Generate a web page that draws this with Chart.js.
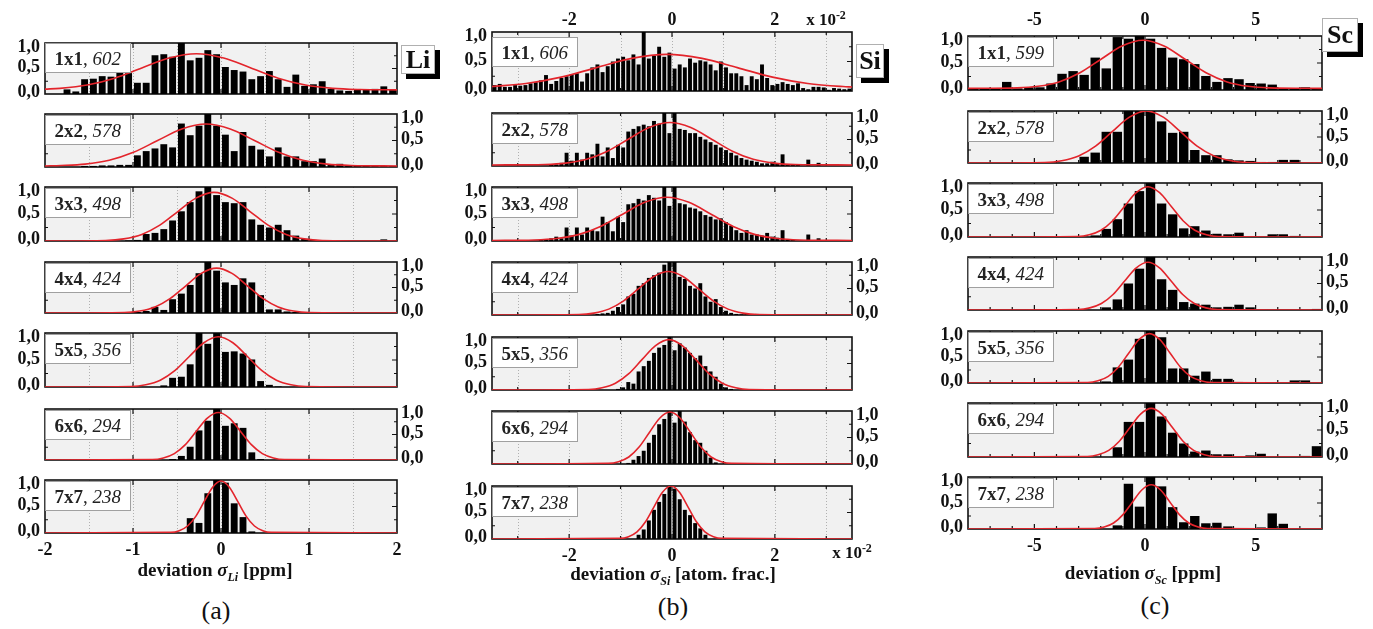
<!DOCTYPE html>
<html>
<head>
<meta charset="utf-8">
<script src="https://cdn.jsdelivr.net/npm/chart.js@4.4.1/dist/chart.umd.min.js"></script>
<style>
  body { margin: 0; background: #fff; width: 1373px; height: 629px; position: relative; overflow: hidden;
         font-family: "Liberation Serif", "Times New Roman", serif; color: #111; }
  canvas { position: absolute; }
  .txt { position: absolute; white-space: nowrap; transform: translate(-50%, -50%); }
  .tag { position: absolute; background: #fff; border: 1px solid #b0b0b0; box-shadow: 5px 5px 0 #000;
         font-weight: bold; font-size: 26px; text-align: center; }
  sub, sup { font-size: 12px; }
</style>
</head>
<body>
<script>
const SERIF = '"Liberation Serif", "Times New Roman", serif';

// panel labels
const sizeLabels = ['1x1', '2x2', '3x3', '4x4', '5x5', '6x6', '7x7'];
const liCounts = [602, 578, 498, 424, 356, 294, 238];
const siCounts = [606, 578, 498, 424, 356, 294, 238];
const scCounts = [599, 578, 498, 424, 356, 294, 238];

// tick labels
const yTickLabels = ['0,0', '0,5', '1,0'];
const yTickValues = [0, 0.5, 1];
const liTickLabels = ['-2', '-1', '0', '1', '2'];
const siTickLabels = ['-2', '0', '2'];
const scTickLabels = ['-5', '0', '5'];

// bin centres
const liCenters = [-1.95,-1.85,-1.75,-1.65,-1.55,-1.45,-1.35,-1.25,-1.15,-1.05,-0.95,-0.85,-0.75,-0.65,-0.55,-0.45,-0.35,-0.25,-0.15,-0.05,
                   0.05,0.15,0.25,0.35,0.45,0.55,0.65,0.75,0.85,0.95,1.05,1.15,1.25,1.35,1.45,1.55,1.65,1.75,1.85,1.95];
const siCenters = [-3.45,-3.35,-3.25,-3.15,-3.05,-2.95,-2.85,-2.75,-2.65,-2.55,-2.45,-2.35,-2.25,-2.15,-2.05,-1.95,-1.85,-1.75,-1.65,-1.55,
                   -1.45,-1.35,-1.25,-1.15,-1.05,-0.95,-0.85,-0.75,-0.65,-0.55,-0.45,-0.35,-0.25,-0.15,-0.05,0.05,0.15,0.25,0.35,0.45,
                   0.55,0.65,0.75,0.85,0.95,1.05,1.15,1.25,1.35,1.45,1.55,1.65,1.75,1.85,1.95,2.05,2.15,2.25,2.35,2.45,
                   2.55,2.65,2.75,2.85,2.95,3.05,3.15,3.25,3.35,3.45];
const scCenters = [-7.75,-7.25,-6.75,-6.25,-5.75,-5.25,-4.75,-4.25,-3.75,-3.25,-2.75,-2.25,-1.75,-1.25,-0.75,-0.25,
                   0.25,0.75,1.25,1.75,2.25,2.75,3.25,3.75,4.25,4.75,5.25,5.75,6.25,6.75,7.25,7.75];

// Li histograms (normalised)
const li1 = [0,0,0.09,0.05,0.29,0.30,0.35,0.34,0.43,0.41, 0.22,0.22,0.76,0.78,0.73,1.00,0.66,0.71,0.86,0.78,
             0.53,0.47,0.44,0.29,0.35,0.45,0.29,0.14,0.38,0.16, 0.19,0.25,0.10,0.07,0.06,0.08,0.08,0.10,0.15,0.09];
const li2 = [0,0,0,0,0.02,0.02,0.03,0.03,0.04,0.04, 0.22,0.30,0.35,0.43,0.37,0.82,0.60,0.78,1.00,0.78,
             0.61,0.30,0.66,0.40,0.33,0.20,0.37,0.20,0.20,0.11, 0.11,0.16,0.05,0.06,0.02,0.02,0.02,0.02,0.02,0.02];
const li3 = [0,0,0,0,0,0,0,0,0,0.01, 0.02,0.13,0.15,0.22,0.38,0.55,0.72,0.92,1.00,0.85,
             0.72,0.70,0.72,0.40,0.30,0.25,0.30,0.20,0.10,0.04, 0.02,0,0,0,0,0,0,0,0.03,0];
const li4 = [0,0,0,0,0,0,0,0,0,0, 0.02,0.04,0.12,0.06,0.27,0.38,0.55,0.78,1.00,0.83,
             0.60,0.55,0.68,0.60,0.35,0.07,0.07,0.03,0.02,0, 0,0.02,0,0,0,0,0,0,0,0];
const li5 = [0,0,0,0,0,0,0,0,0,0, 0,0,0,0.03,0.17,0.19,0.42,1.00,0.80,1.00,
             0.65,0.66,0.62,0.51,0.11,0.04,0.01,0,0,0, 0,0,0,0,0,0,0,0,0,0];
const li6 = [0,0,0,0,0,0,0,0,0,0, 0,0,0,0,0.02,0.08,0.26,0.58,0.77,1.00,
             0.67,0.72,0.63,0.15,0.02,0,0,0,0,0, 0,0,0,0,0,0,0,0,0,0];
const li7 = [0,0,0,0,0,0,0,0,0,0, 0,0,0,0,0,0,0.28,0.19,0.75,1.00,
             0.95,0.56,0.30,0.03,0,0,0,0,0,0, 0,0,0,0,0,0,0,0,0,0];

// Si histograms
const si1 = [0.10,0.12,0.07,0.07,0.10,0.09,0.10,0.13,0.15,0.18, 0.27,0.12,0.17,0.22,0.25,0.28,0.30,0.16,0.30,0.40,
             0.45,0.32,0.42,0.50,0.55,0.58,0.52,0.62,0.45,1.00, 0.55,0.60,0.75,0.58,0.65,0.38,0.45,0.40,0.55,0.48,
             0.52,0.50,0.45,0.35,0.50,0.40,0.30,0.30,0.25,0.10, 0.25,0.20,0.45,0.22,0.10,0.12,0.15,0.12,0.10,0.13,
             0.05,0.03,0.07,0.07,0.06,0.02,0.05,0.04,0.03,0.04];
const si2 = [0,0,0,0,0,0,0,0,0,0, 0,0.02,0.03,0.06,0.25,0.10,0.25,0.12,0.25,0.22,
             0.42,0.18,0.35,0.15,0.40,0.35,0.65,0.70,0.75,0.78, 0.75,0.85,0.80,1.00,0.62,1.00,0.70,0.68,0.62,0.62,
             0.55,0.50,0.45,0.40,0.35,0.30,0.25,0.20,0.15,0.12, 0.10,0.08,0.05,0.05,0.08,0.05,0.22,0.03,0.02,0.02,
             0,0.12,0,0.06,0,0,0,0,0,0];
const si3 = [0,0,0,0,0,0,0,0,0,0.02, 0.03,0.05,0.08,0.05,0.25,0.10,0.25,0.12,0.25,0.20,
             0.18,0.45,0.35,0.18,0.45,0.35,0.68,0.70,0.78,0.75, 0.85,0.80,0.75,1.00,0.65,1.00,0.70,0.68,0.62,0.60,
             0.55,0.48,0.45,0.40,0.42,0.35,0.28,0.20,0.15,0.20, 0.12,0.12,0.10,0.15,0.08,0.06,0.20,0.02,0.02,0,
             0,0.12,0,0.05,0,0,0,0,0,0];
const si4 = [0,0,0,0,0,0,0,0,0,0, 0,0,0,0,0,0,0,0,0,0,
             0.02,0.03,0.04,0.08,0.15,0.20,0.35,0.40,0.55,0.60, 0.70,0.75,0.80,0.95,1.00,1.00,0.72,0.68,0.55,0.50,
             0.60,0.35,0.25,0.30,0.15,0.08,0.04,0.02,0.01,0.02, 0,0.02,0,0,0,0,0,0,0,0,
             0,0,0,0,0,0,0,0,0,0];
const si5 = [0,0,0,0,0,0,0,0,0,0, 0,0,0,0,0,0,0,0,0,0,
             0,0,0,0,0.02,0.05,0.15,0.12,0.35,0.45, 0.55,0.70,0.80,0.85,1.00,0.75,0.88,0.80,0.70,0.60,
             0.65,0.45,0.35,0.25,0.12,0.05,0.02,0,0,0, 0,0,0,0,0,0,0,0,0,0,
             0,0,0,0,0,0,0,0,0,0];
const si6 = [0,0,0,0,0,0,0,0,0,0, 0,0,0,0,0,0,0,0,0,0,
             0,0,0,0,0,0,0.02,0.08,0.15,0.25, 0.40,0.55,0.75,0.85,1.00,0.78,1.00,0.80,0.60,0.45,
             0.40,0.25,0.12,0.03,0,0,0,0,0,0, 0,0,0,0,0,0,0,0,0,0,
             0,0,0,0,0,0,0,0,0,0];
const si7 = [0,0,0,0,0,0,0,0,0,0, 0,0,0,0,0,0,0,0,0,0,
             0,0,0,0,0,0,0,0,0.08,0.18, 0.35,0.55,0.70,0.85,1.00,0.95,0.75,0.55,0.45,0.30,
             0.20,0.08,0,0,0,0,0,0,0,0, 0,0,0,0,0,0,0,0,0,0,
             0,0,0,0,0,0,0,0,0,0];

// Sc histograms
const sc1 = [0.02,0.02,0.02,0.15,0.03,0.05,0.05,0.12, 0.30,0.35,0.28,0.60,0.40,0.98,0.95,1.00,
             0.95,0.78,0.60,0.57,0.48,0.26,0.15,0.22, 0.20,0.13,0.12,0.10,0.02,0.02,0.05,0.02];
const sc2 = [0,0,0,0,0,0,0,0, 0,0,0.12,0.20,0.60,0.60,1.00,1.00,
             1.00,0.80,0.58,0.60,0.25,0.15,0.15,0.07, 0.05,0.04,0.02,0.02,0.06,0.06,0,0];
const sc3 = [0,0,0,0,0,0,0,0, 0,0,0,0.03,0.15,0.33,0.62,0.85,
             1.00,0.62,0.42,0.16,0.20,0.12,0.06,0.05, 0.08,0,0,0.05,0.05,0.02,0,0];
const sc4 = [0,0,0,0,0,0,0,0, 0,0,0,0,0.05,0.20,0.50,0.78,
             1.00,0.58,0.38,0.15,0.12,0.10,0.05,0.06, 0.10,0.05,0,0,0,0,0,0.02];
const sc5 = [0,0,0,0,0,0,0,0, 0,0,0,0,0.03,0.30,0.45,0.85,
             1.00,0.88,0.28,0.28,0.14,0.22,0.08,0.08, 0.02,0,0,0,0,0.05,0.05,0];
const sc6 = [0,0,0,0,0,0,0,0, 0,0,0,0,0,0.18,0.65,0.65,
             1.00,0.75,0.45,0.25,0.10,0.12,0.05,0.05, 0,0.03,0.06,0,0,0,0.02,0.20];
const sc7 = [0,0,0,0,0,0,0,0, 0,0,0,0,0,0.07,0.87,0.43,
             1.00,0.82,0.42,0.13,0.25,0.11,0.12,0.05, 0,0,0.03,0.30,0.10,0,0,0];

// fitted curves as [x, y]
const liFit1 = [[-2,0.095],[-1.83,0.111],[-1.52,0.176],[-1.21,0.311],[-0.90,0.511],[-0.59,0.706],[-0.28,0.79],[0.03,0.706],[0.34,0.511],[0.65,0.311],[0.96,0.176],[1.27,0.111],[1.58,0.088],[2,0.081]];
const liFit2 = [[-2,0.02],[-1.82,0.029],[-1.545,0.055],[-1.27,0.127],[-0.995,0.277],[-0.72,0.5],[-0.445,0.717],[-0.17,0.81],[0.105,0.717],[0.38,0.5],[0.655,0.277],[0.93,0.127],[1.205,0.055],[1.48,0.029],[2,0.02]];
const liFit3 = [[-2,0],[-1.31,0.01],[-1.105,0.04],[-0.9,0.122],[-0.695,0.293],[-0.49,0.546],[-0.285,0.794],[-0.08,0.9],[0.125,0.794],[0.33,0.546],[0.535,0.293],[0.74,0.122],[0.945,0.04],[1.15,0.01],[2,0]];
const liFit4 = [[-2,0],[-1.1,0.01],[-0.925,0.039],[-0.75,0.119],[-0.575,0.286],[-0.4,0.534],[-0.225,0.776],[-0.05,0.88],[0.125,0.776],[0.3,0.534],[0.475,0.286],[0.65,0.119],[0.825,0.039],[1.0,0.01],[2,0]];
const liFit5 = [[-2,0],[-1.02,0.01],[-0.855,0.041],[-0.69,0.126],[-0.525,0.302],[-0.36,0.565],[-0.195,0.82],[-0.03,0.93],[0.135,0.82],[0.3,0.565],[0.465,0.302],[0.63,0.126],[0.795,0.041],[0.96,0.01],[2,0]];
const liFit6 = [[-2,0],[-0.78,0.01],[-0.655,0.041],[-0.53,0.126],[-0.405,0.302],[-0.28,0.565],[-0.155,0.82],[-0.03,0.93],[0.095,0.82],[0.22,0.565],[0.345,0.302],[0.47,0.126],[0.595,0.041],[0.72,0.01],[2,0]];
const liFit7 = [[-2,0],[-0.57,0.011],[-0.475,0.043],[-0.38,0.132],[-0.285,0.319],[-0.19,0.595],[-0.095,0.864],[0,0.98],[0.095,0.864],[0.19,0.595],[0.285,0.319],[0.38,0.132],[0.475,0.043],[0.57,0.011],[2,0]];

const siFit1 = [[-3.5,0.076],[-2.84,0.127],[-2.155,0.235],[-1.47,0.396],[-0.785,0.553],[-0.1,0.62],[0.585,0.553],[1.27,0.396],[1.955,0.235],[2.64,0.127],[3.325,0.075],[3.5,0.068]];
const siFit2 = [[-3.5,0.02],[-2.47,0.029],[-2.065,0.055],[-1.66,0.128],[-1.255,0.28],[-0.85,0.506],[-0.445,0.726],[-0.04,0.82],[0.365,0.726],[0.77,0.506],[1.175,0.28],[1.58,0.128],[1.985,0.055],[2.39,0.029],[3.5,0.02]];
const siFit3 = [[-3.5,0.01],[-2.68,0.019],[-2.25,0.045],[-1.82,0.118],[-1.39,0.27],[-0.96,0.496],[-0.53,0.716],[-0.1,0.81],[0.33,0.716],[0.76,0.496],[1.19,0.27],[1.62,0.118],[2.05,0.045],[2.48,0.019],[3.5,0.01]];
const siFit4 = [[-3.5,0],[-1.81,0.009],[-1.52,0.036],[-1.23,0.111],[-0.94,0.267],[-0.65,0.498],[-0.36,0.723],[-0.07,0.82],[0.22,0.723],[0.51,0.498],[0.80,0.267],[1.09,0.111],[1.38,0.036],[1.67,0.009],[3.5,0]];
const siFit5 = [[-3.5,0],[-1.62,0.01],[-1.36,0.042],[-1.10,0.128],[-0.84,0.309],[-0.58,0.577],[-0.32,0.838],[-0.06,0.95],[0.2,0.838],[0.46,0.577],[0.72,0.309],[0.98,0.128],[1.24,0.042],[1.5,0.01],[3.5,0]];
const siFit6 = [[-3.5,0],[-1.24,0.011],[-1.04,0.043],[-0.84,0.132],[-0.64,0.319],[-0.44,0.595],[-0.24,0.864],[-0.04,0.98],[0.16,0.864],[0.36,0.595],[0.56,0.319],[0.76,0.132],[0.96,0.043],[1.16,0.011],[3.5,0]];
const siFit7 = [[-3.5,0],[-1.01,0.011],[-0.845,0.044],[-0.68,0.135],[-0.515,0.325],[-0.35,0.607],[-0.185,0.882],[-0.02,1.0],[0.145,0.882],[0.31,0.607],[0.475,0.325],[0.64,0.135],[0.805,0.044],[0.97,0.011],[3.5,0]];

const scFit1 = [[-8,0.03],[-5.79,0.04],[-4.84,0.069],[-3.89,0.15],[-2.94,0.319],[-1.99,0.57],[-1.04,0.815],[-0.09,0.92],[0.86,0.815],[1.81,0.57],[2.76,0.319],[3.71,0.15],[4.66,0.069],[5.61,0.04],[8,0.03]];
const scFit2 = [[-8,0],[-4.53,0.011],[-3.765,0.044],[-3.0,0.135],[-2.235,0.325],[-1.47,0.607],[-0.705,0.882],[0.06,1.0],[0.825,0.882],[1.59,0.607],[2.355,0.325],[3.12,0.135],[3.885,0.044],[4.65,0.011],[8,0]];
const scFit3 = [[-8,0],[-3.05,0.01],[-2.52,0.041],[-1.99,0.126],[-1.46,0.302],[-0.93,0.565],[-0.4,0.82],[0.13,0.93],[0.66,0.82],[1.19,0.565],[1.72,0.302],[2.25,0.126],[2.78,0.041],[3.31,0.01],[8,0]];
const scFit4 = [[-8,0],[-3.02,0.01],[-2.495,0.04],[-1.97,0.122],[-1.445,0.293],[-0.92,0.546],[-0.395,0.794],[0.13,0.9],[0.655,0.794],[1.18,0.546],[1.705,0.293],[2.23,0.122],[2.755,0.04],[3.28,0.01],[8,0]];
const scFit5 = [[-8,0],[-2.59,0.01],[-2.125,0.042],[-1.66,0.128],[-1.195,0.309],[-0.73,0.577],[-0.265,0.838],[0.2,0.95],[0.665,0.838],[1.13,0.577],[1.595,0.309],[2.06,0.128],[2.525,0.042],[2.99,0.01],[8,0]];
const scFit6 = [[-8,0],[-2.6,0.01],[-2.12,0.04],[-1.64,0.122],[-1.16,0.293],[-0.68,0.546],[-0.2,0.794],[0.28,0.9],[0.76,0.794],[1.24,0.546],[1.72,0.293],[2.2,0.122],[2.68,0.04],[3.16,0.01],[8,0]];
const scFit7 = [[-8,0],[-2.27,0.009],[-1.845,0.037],[-1.42,0.115],[-0.995,0.276],[-0.57,0.516],[-0.145,0.75],[0.28,0.85],[0.705,0.75],[1.13,0.516],[1.555,0.276],[1.98,0.115],[2.405,0.037],[2.83,0.009],[8,0]];

// layout of the three columns
const columns = [
  { centers: liCenters, min: -2, max: 2, left: 45, right: 397, barPct: 0.78,
    boxes: [[43,94],[114,167],[187,241],[262,313],[333,387],[409,460],[480,533]],
    hists: [li1,li2,li3,li4,li5,li6,li7], fits: [liFit1,liFit2,liFit3,liFit4,liFit5,liFit6,liFit7], counts: liCounts,
    grid: [-1.5,-1,-0.5,0,0.5,1,1.5], tickStep: 1, majorStep: 1,
    bottomLabels: liTickLabels, topLabels: null, topDy: 0, labelDy0: 0 },
  { centers: siCenters, min: -3.5, max: 3.5, left: 492, right: 852, barPct: 0.76,
    boxes: [[32,91],[113,166],[187,241],[262,315],[337,390],[411,464],[486,539]],
    hists: [si1,si2,si3,si4,si5,si6,si7], fits: [siFit1,siFit2,siFit3,siFit4,siFit5,siFit6,siFit7], counts: siCounts,
    grid: [-3,-2,-1,0,1,2,3], tickStep: 1, majorStep: 2,
    bottomLabels: siTickLabels, topLabels: siTickLabels, topDy: -12, labelDy0: 5 },
  { centers: scCenters, min: -8, max: 8, left: 968, right: 1322, barPct: 0.85,
    boxes: [[36,90],[111,163],[183,237],[257,310],[331,383],[403,457],[477,529]],
    hists: [sc1,sc2,sc3,sc4,sc5,sc6,sc7], fits: [scFit1,scFit2,scFit3,scFit4,scFit5,scFit6,scFit7], counts: scCounts,
    grid: [], tickStep: 1, majorStep: 5,
    bottomLabels: scTickLabels, topLabels: scTickLabels, topDy: -16, labelDy0: 1 }
];

function frame(col, row) {
  const leftSide = row % 2 === 0;
  return {
    id: 'frame',
    beforeDatasetsDraw(chart) {
      const { ctx, chartArea: a, scales: { x, y } } = chart;
      ctx.save();
      ctx.fillStyle = '#f1f1f1';
      ctx.fillRect(a.left, a.top, a.right - a.left, a.bottom - a.top);
      ctx.strokeStyle = '#b0b0b0'; ctx.lineWidth = 1; ctx.setLineDash([1, 2]);
      col.grid.forEach(v => {
        const px = Math.round(x.getPixelForValue(v)) + 0.5;
        ctx.beginPath(); ctx.moveTo(px, a.top); ctx.lineTo(px, a.bottom); ctx.stroke();
      });
      ctx.setLineDash([]);
      ctx.strokeStyle = '#111'; ctx.lineWidth = 1.6;
      ctx.strokeRect(a.left, a.top, a.right - a.left, a.bottom - a.top);
      ctx.lineWidth = 1.2;
      for (let v = Math.ceil(col.min) + (Number.isInteger(col.min) ? col.tickStep : 0); v < col.max; v += col.tickStep) {
        const px = x.getPixelForValue(v);
        const len = (Math.abs(v) % col.majorStep === 0) ? 5 : 3;
        ctx.beginPath();
        ctx.moveTo(px, a.top); ctx.lineTo(px, a.top + len);
        ctx.moveTo(px, a.bottom); ctx.lineTo(px, a.bottom - len);
        ctx.stroke();
      }
      [0.25, 0.5, 0.75].forEach(v => {
        const py = y.getPixelForValue(v);
        const len = v === 0.5 ? 5 : 3;
        ctx.beginPath();
        ctx.moveTo(a.left, py); ctx.lineTo(a.left + len, py);
        ctx.moveTo(a.right, py); ctx.lineTo(a.right - len, py);
        ctx.stroke();
      });
      ctx.restore();
    },
    afterDatasetsDraw(chart) {
      const { ctx, chartArea: a, scales: { x, y } } = chart;
      ctx.save();
      // size / count label
      const size = sizeLabels[row], cnt = String(col.counts[row]);
      ctx.font = 'bold 19px ' + SERIF; const w1 = ctx.measureText(size).width;
      ctx.font = '19px ' + SERIF; const w2 = ctx.measureText(', ').width;
      ctx.font = 'italic 19px ' + SERIF; const w3 = ctx.measureText(cnt).width;
      const bx = a.left + 0.5, by = a.top + (row === 0 ? col.labelDy0 : 1) + 0.5;
      const bw = Math.round(w1 + w2 + w3 + 18), bh = 29;
      ctx.fillStyle = '#fff'; ctx.fillRect(bx, by, bw, bh);
      ctx.strokeStyle = '#a0a0a0'; ctx.lineWidth = 1; ctx.strokeRect(bx, by, bw, bh);
      ctx.fillStyle = '#222'; ctx.textBaseline = 'alphabetic'; ctx.textAlign = 'left';
      let tx = bx + 9; const ty = by + 21;
      ctx.font = 'bold 19px ' + SERIF; ctx.fillText(size, tx, ty); tx += w1;
      ctx.font = '19px ' + SERIF; ctx.fillText(', ', tx, ty); tx += w2;
      ctx.font = 'italic 19px ' + SERIF; ctx.fillText(cnt, tx, ty);

      // y tick labels
      ctx.font = 'bold 18px ' + SERIF; ctx.fillStyle = '#111'; ctx.textBaseline = 'middle';
      const nudge = [-2, -1, 4];
      yTickLabels.forEach((lab, i) => {
        const py = y.getPixelForValue(yTickValues[i]) + nudge[i];
        if (leftSide) { ctx.textAlign = 'right'; ctx.fillText(lab, a.left - 5, py); }
        else { ctx.textAlign = 'left'; ctx.fillText(lab, a.right + 4, py); }
      });
      // x tick labels
      ctx.textAlign = 'center';
      if (row === 6) {
        col.bottomLabels.forEach(lab => ctx.fillText(lab, x.getPixelForValue(Number(lab)), a.bottom + 17));
      }
      if (row === 0 && col.topLabels) {
        col.topLabels.forEach(lab => ctx.fillText(lab, x.getPixelForValue(Number(lab)), a.top + col.topDy));
      }
      ctx.restore();
    }
  };
}

function makePanel(col, row) {
  const [top, bottom] = col.boxes[row];
  const padL = 60, padR = 60, padT = 28, padB = 30;
  const cv = document.createElement('canvas');
  cv.width = col.right - col.left + padL + padR;
  cv.height = bottom - top + padT + padB;
  cv.style.left = (col.left - padL) + 'px';
  cv.style.top = (top - padT) + 'px';
  document.body.appendChild(cv);

  const hist = col.hists[row];
  new Chart(cv.getContext('2d'), {
    type: 'bar',
    data: {
      datasets: [
        { type: 'line', data: col.fits[row].map(p => ({ x: p[0], y: p[1] })),
          borderColor: '#e3242b', borderWidth: 1.6, pointRadius: 0,
          cubicInterpolationMode: 'monotone', order: 0 },
        { type: 'bar', data: col.centers.map((c, i) => ({ x: c, y: hist[i] })),
          backgroundColor: '#000', borderWidth: 0,
          barPercentage: col.barPct, categoryPercentage: 1, order: 1 }
      ]
    },
    options: {
      responsive: false, maintainAspectRatio: false, animation: false, events: [],
      layout: { padding: { left: padL, right: padR, top: padT, bottom: padB } },
      plugins: { legend: { display: false }, tooltip: { enabled: false } },
      scales: {
        x: { type: 'linear', min: col.min, max: col.max, offset: false, display: false },
        y: { min: 0, max: 1, display: false }
      }
    },
    plugins: [frame(col, row)]
  });
}

columns.forEach(col => { for (let r = 0; r < 7; r++) makePanel(col, r); });

function addText(html, x, y, css) {
  const d = document.createElement('div');
  d.className = 'txt'; d.innerHTML = html; d.style.left = x + 'px'; d.style.top = y + 'px';
  d.style.cssText += css;
  document.body.appendChild(d);
}
function addTag(text, x, y, w, h) {
  const d = document.createElement('div');
  d.className = 'tag'; d.textContent = text;
  d.style.left = x + 'px'; d.style.top = y + 'px'; d.style.width = w + 'px'; d.style.height = h + 'px';
  d.style.lineHeight = h + 'px';
  document.body.appendChild(d);
}

const titleCss = 'font-weight:bold;font-size:19px;';
addText('deviation <i>&sigma;</i><sub><i>Li</i></sub> [ppm]', 215, 572, titleCss);
addText('deviation <i>&sigma;</i><sub><i>Si</i></sub> [atom. frac.]', 673, 576, titleCss);
addText('deviation <i>&sigma;</i><sub><i>Sc</i></sub> [ppm]', 1143, 575, titleCss);
addText('(a)', 216, 611, 'font-size:26px;');
addText('(b)', 673, 607, 'font-size:26px;');
addText('(c)', 1155, 606, 'font-size:26px;');
addText('x 10<sup>-2</sup>', 826, 19, 'font-weight:bold;font-size:17px;');
addText('x 10<sup>-2</sup>', 852, 552, 'font-weight:bold;font-size:17px;');
addTag('Li', 401, 45, 32, 27);
addTag('Si', 856, 44, 26, 32);
addTag('Sc', 1322, 18, 34, 32);
</script>
</body>
</html>
